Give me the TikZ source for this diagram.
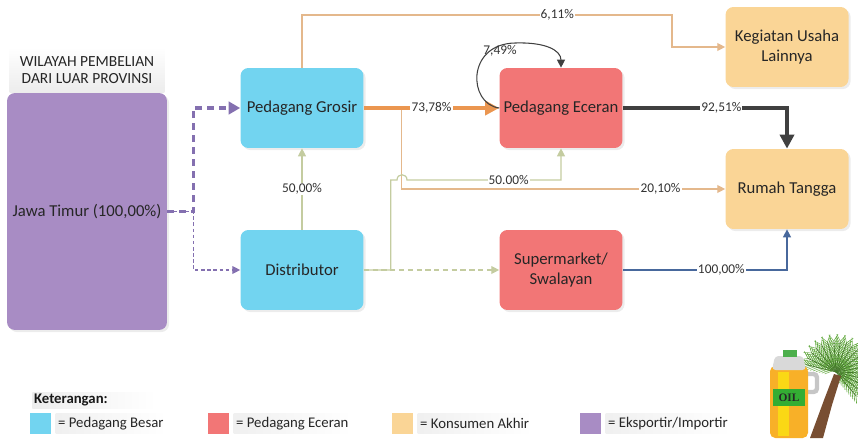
\documentclass[tikz,border=0pt]{standalone}
\usepackage{fontspec}
\setmainfont{Carlito}
\newfontfamily\oilfont{Liberation Serif}
\usetikzlibrary{arrows.meta,shadows}

\tikzset{
  kotak/.style={rounded corners=4.5pt, minimum width=2.46cm, minimum height=1.6cm, inner sep=1pt, align=center, text=black!85, font=\fontsize{9.5}{11.5}\selectfont, drop shadow={opacity=0.15,shadow xshift=1.2pt,shadow yshift=-1.2pt}},
  persen/.style={fill=white, inner sep=0.6pt, text=black!80, font=\fontsize{7.6}{8}\selectfont},
  panah/.style={-{Triangle[length=4.5pt,width=4.5pt]}, line width=0.7pt}
}

\begin{document}
\begin{tikzpicture}[x=0.02cm,y=-0.02cm]
\definecolor{besar}{RGB}{114,212,240}
\definecolor{ecer}{RGB}{242,118,118}
\definecolor{akhir}{RGB}{250,213,150}
\definecolor{impor}{RGB}{168,140,196}
\definecolor{garisungu}{RGB}{132,112,176}
\definecolor{oranye}{RGB}{235,150,80}
\definecolor{coklat}{RGB}{228,184,140}
\definecolor{hijau}{RGB}{196,204,160}
\definecolor{gelap}{RGB}{64,64,64}
\definecolor{biru}{RGB}{72,104,156}
\definecolor{minyak}{RGB}{248,176,40}
\definecolor{daun}{RGB}{96,168,60}
\definecolor{batang}{RGB}{120,78,50}
\useasboundingbox (0,0) rectangle (858,439);

\node[top color=white, bottom color=gray!15, minimum width=3.1cm, minimum height=0.92cm, inner sep=0pt, align=center, text=black!85, font=\fontsize{8.8}{9.6}\selectfont] (wilayah) at (87,70) {WILAYAH PEMBELIAN\\DARI LUAR PROVINSI};
\node[kotak, fill=impor, minimum width=3.2cm, minimum height=4.74cm] (jatim) at (87,211.5) {Jawa Timur (100,00\%)};
\node[kotak, fill=besar] (grosir) at (302,108) {Pedagang Grosir};
\node[kotak, fill=besar] (distributor) at (302,270) {Distributor};
\node[kotak, fill=ecer] (eceran) at (561,108) {Pedagang Eceran};
\node[kotak, fill=ecer] (swalayan) at (561,270) {Supermarket/\\Swalayan};
\node[kotak, fill=akhir] (lainnya) at (787,47) {Kegiatan Usaha\\Lainnya};
\node[kotak, fill=akhir] (rumah) at (787,189) {Rumah Tangga};

\draw[garisungu, line width=2pt, dash pattern=on 4pt off 2.8pt, -{Triangle[length=6.5pt,width=7pt]}] (jatim.east) -- ++(26,0) |- (grosir.west);
\draw[garisungu, panah, dash pattern=on 2pt off 1.5pt] (jatim.east) -- ++(26,0) |- (distributor.west);

\draw[coklat, panah] (grosir.north) |- node[persen, pos=0.845] (p611) {6,11\%} (672,15) |- (lainnya.west);
\path (grosir.east) ++(38,0) coordinate (cabang);
\draw[coklat, panah] (cabang) |- node[persen, pos=0.9] (p2010) {20,10\%} (rumah.west);
\draw[oranye, line width=2.3pt, -{Triangle[length=8pt,width=8pt]}] (grosir.east) -- node[persen] (p7378) {73,78\%} (eceran.west);

\draw[hijau, panah] (distributor.north) -- node[persen] (p5000a) {50,00\%} (grosir.south);
\draw[hijau, panah] (distributor.east) -- ++(27,0) |- (397,180) .. controls (397,173) and (407,173) .. (407,180) -| node[persen, pos=0.33] (p5000b) {50.00\%} (eceran.south);
\draw[hijau, panah, dash pattern=on 3pt off 2pt] (distributor.east) -- (swalayan.west);

\draw[gelap, line width=2.5pt, -{Triangle[length=8pt,width=8pt]}] (eceran.east) -| node[persen, pos=0.3] (p9251) {92,51\%} (rumah.north);
\draw[gelap, panah, line width=0.6pt] (eceran.west) .. controls (468,104) and (466,44) .. (515,43) .. controls (545,42) and (561,50) .. (eceran.north);
\node[persen, fill=none] (p749) at (500,51) {7,49\%};

\draw[biru, panah] (swalayan.east) -| node[persen, pos=0.3] (p10000) {100,00\%} (rumah.south);

\node[anchor=west, left color=gray!14, right color=white, text width=2.4cm, inner sep=1pt, minimum height=0.32cm, text=black!90, font=\bfseries\fontsize{8.4}{10}\selectfont] (keterangan) at (32,400) {Keterangan:};
\foreach \warna/\teks/\x [count=\i] in {besar/Pedagang Besar/30, ecer/Pedagang Eceran/208, akhir/Konsumen Akhir/392, impor/{Eksportir/Importir}/580}{
  \node[fill=\warna, minimum width=0.42cm, minimum height=0.42cm, inner sep=0pt, anchor=north west] (warna\i) at (\x,413) {};
  \node[anchor=west, left color=gray!12, right color=white, inner sep=1.5pt, minimum height=0.4cm, text=black!85, font=\fontsize{8.4}{10}\selectfont] (ket\i) at ([xshift=2pt]warna\i.east) {= \teks};
}

\foreach \a in {-50,-38,...,170} \foreach \r in {0.08,0.14,...,0.62} {
  \draw[daun!80!white, line width=0.35pt] (836,372) ++(\a:\r cm) -- ++(\a+35:0.16cm);
  \draw[daun, line width=0.35pt] (836,372) ++(\a:\r cm) -- ++(\a-35:0.16cm);
}
\foreach \a in {-50,-38,...,170} \draw[daun!70!black, line width=0.4pt] (836,372) -- ++(\a:0.62cm);
\fill[batang] (810,438) -- (823,438) -- (832,405) -- (841,376) -- (834,374) -- (824,400) -- cycle;
\draw[gray!45, line width=2.5pt, rounded corners=2pt] (804,374) -- (817,374) -- (817,392) -- (804,392);
\fill[minyak, rounded corners=3pt] (770,366) rectangle (808,438);
\fill[yellow!60!minyak] (778,372) rectangle (789,436);
\fill[gray!30, rounded corners=2pt] (772,370) -- (775,356) -- (803,356) -- (806,370) -- cycle;
\fill[green!55!black!70] (783,350) rectangle (797,357);
\fill[green!60!black!80] (773,389) rectangle (805,406);
\node[inner sep=0pt, text=black!85, font=\oilfont\bfseries\fontsize{6.5}{7}\selectfont] (oil) at (789,397.5) {OIL};
\end{tikzpicture}
\end{document}
